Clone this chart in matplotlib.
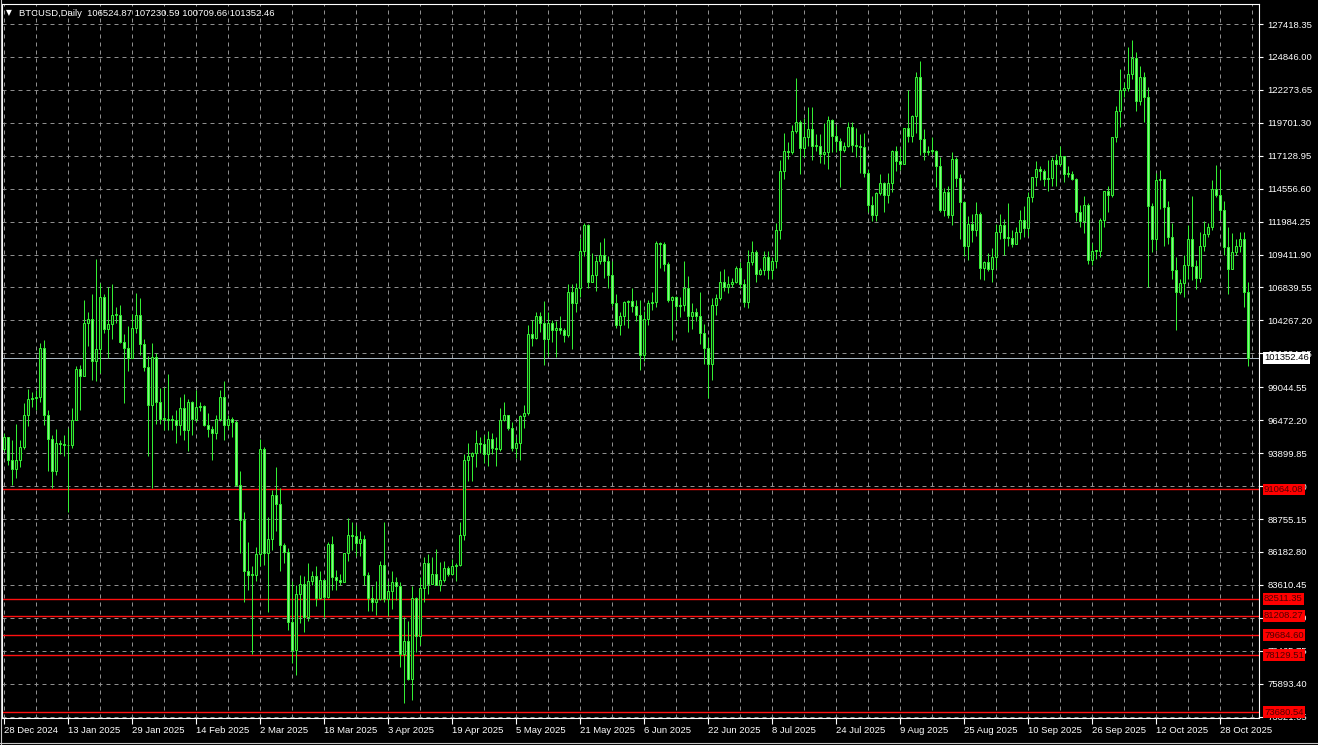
import numpy as np
import pandas as pd
import matplotlib
matplotlib.use("Agg")
from matplotlib import pyplot as plt
from matplotlib.transforms import blended_transform_factory

# BTCUSD daily bars, 28 Dec 2024 .. 4 Nov 2025, prices in thousands
opens = [
    94.2, 95.2, 93.4, 92.7,
    # Jan
    93.4, 94.4, 96.9, 98.1, 98.2, 98.3, 102.1, 96.9, 95.0, 92.5, 94.7, 94.6, 94.5, 94.5, 96.5, 100.5,
    99.9, 104.1, 104.4, 101.1, 102.0, 106.1, 103.6, 104.0, 104.7, 104.7, 102.6, 102.1, 101.3, 103.7, 104.7,
    # Feb
    102.4, 100.6, 97.7, 101.4, 97.9, 96.6, 96.6, 96.5, 96.5, 96.1, 97.4, 95.7, 97.9, 96.6,
    97.5, 97.6, 96.1, 95.8, 95.5, 96.6, 98.3, 96.1, 96.6, 96.3, 91.4, 88.7, 84.7, 84.4,
    # Mar
    84.4, 86.0, 94.2, 86.1, 87.2, 90.6, 89.9, 86.7, 86.2, 80.7, 78.5, 82.9, 83.7, 81.1, 83.9, 84.3,
    82.6, 84.0, 82.7, 86.8, 84.2, 84.0, 83.8, 86.1, 87.5, 87.4, 86.9, 87.2, 84.4, 82.6, 82.3,
    # Apr
    82.5, 85.2, 82.5, 83.1, 83.8, 83.5, 78.2, 79.2, 76.3, 82.6, 79.6, 83.4, 85.3, 83.7, 84.5,
    83.6, 84.0, 84.9, 84.5, 85.1, 85.2, 87.5, 93.4, 93.7, 93.9, 94.7, 94.6, 93.8, 95.0, 94.3,
    # May
    94.2, 96.5, 96.9, 95.9, 94.3, 94.7, 96.8, 97.0, 103.2, 102.9, 104.6, 104.1, 102.8, 104.1, 103.5, 103.7,
    103.5, 103.1, 106.5, 105.6, 106.8, 109.7, 111.7, 107.3, 107.8, 108.9, 109.4, 108.9, 107.8, 105.6, 103.9,
    # Jun
    104.6, 105.7, 105.8, 105.4, 104.7, 101.6, 104.4, 105.6, 105.7, 110.3, 110.2, 108.7, 105.9, 106.1, 105.4,
    105.5, 106.8, 104.6, 104.9, 104.6, 103.3, 102.1, 100.9, 105.5, 106.0, 107.3, 106.9, 107.1, 107.3, 108.4,
    # Jul
    107.1, 105.7, 108.8, 109.6, 107.9, 108.2, 109.2, 108.2, 108.9, 111.3, 115.9, 117.5, 117.4, 119.1, 119.8, 117.7,
    118.6, 119.2, 117.9, 117.9, 117.3, 117.4, 119.9, 118.7, 118.3, 117.6, 117.9, 119.4, 118.0, 117.9, 117.8,
    # Aug
    115.8, 113.3, 112.5, 114.2, 115.0, 114.1, 115.0, 117.5, 116.7, 116.5, 119.3, 118.7, 120.2, 123.3, 118.4, 117.4,
    117.5, 117.5, 116.3, 112.9, 114.3, 112.5, 116.9, 115.4, 113.5, 110.1, 111.8, 111.3, 112.6, 108.4, 108.8,
    # Sep
    108.3, 109.2, 111.2, 111.7, 110.7, 110.7, 110.2, 111.2, 112.1, 111.5, 113.9, 115.5, 116.1, 115.9, 115.3,
    115.4, 116.8, 116.5, 117.1, 115.7, 115.7, 115.3, 112.7, 112.0, 113.3, 109.0, 109.7, 109.7, 112.1, 114.4,
    # Oct
    114.1, 118.6, 120.6, 122.3, 122.4, 123.5, 124.8, 121.4, 123.3, 121.7, 113.2, 110.6, 115.2, 115.3, 113.1, 110.8,
    108.2, 106.5, 107.2, 108.6, 110.6, 108.5, 107.6, 110.1, 111.0, 111.6, 114.5, 114.1, 112.9, 110.0, 108.3,
    # Nov
    109.6, 110.1, 110.6, 106.52487,
]
highs = [
    95.5, 95.2, 94.9, 96.2,
    94.9, 97.8, 98.9, 98.7, 98.8, 102.5, 102.7, 97.3, 95.3, 95.8, 94.9, 95.3, 95.9, 97.4, 100.7, 100.8,
    105.9, 104.9, 106.3, 109.1, 107.2, 106.3, 106.9, 107.1, 105.3, 105.5, 103.2, 103.8, 104.8, 106.4, 106.0,
    102.8, 101.5, 102.5, 101.7, 99.0, 99.1, 100.1, 96.9, 97.3, 98.3, 98.5, 98.1, 98.0, 98.8,
    97.9, 97.7, 97.0, 96.0, 96.9, 98.8, 99.5, 96.9, 96.7, 96.5, 92.5, 89.3, 87.0, 85.1,
    86.6, 95.0, 94.4, 88.9, 91.0, 92.8, 91.2, 86.9, 86.5, 83.9, 83.6, 84.4, 84.3, 85.3, 84.7, 85.1,
    84.7, 84.0, 87.0, 87.4, 84.8, 84.5, 86.1, 88.8, 88.5, 88.3, 87.8, 87.5, 84.6, 83.5, 83.9,
    85.5, 88.5, 83.9, 84.7, 84.2, 83.8, 81.1, 80.8, 83.5, 82.7, 84.2, 85.8, 86.0, 85.8, 86.4,
    85.4, 85.5, 85.1, 85.6, 85.3, 88.5, 93.8, 94.7, 94.0, 95.7, 95.2, 95.3, 95.6, 95.5, 95.2,
    97.4, 97.9, 96.9, 96.3, 95.2, 96.9, 97.7, 103.9, 104.3, 104.9, 104.9, 105.8, 104.9, 104.3, 104.2, 104.6,
    103.7, 107.1, 107.1, 107.2, 110.7, 111.9, 111.8, 109.5, 109.3, 110.4, 110.7, 109.3, 108.9, 106.3, 104.9,
    105.8, 105.9, 106.8, 105.9, 105.9, 105.0, 105.9, 106.5, 110.5, 110.4, 110.4, 108.8, 106.2, 106.2, 106.1,
    108.9, 107.7, 105.6, 105.2, 106.5, 104.0, 103.0, 106.0, 106.3, 108.1, 108.3, 107.7, 107.6, 108.5, 108.8,
    107.5, 109.8, 110.5, 109.8, 108.4, 109.7, 109.7, 109.2, 111.9, 116.8, 118.9, 118.2, 119.5, 123.2, 119.9, 120.1,
    120.9, 120.9, 118.8, 118.8, 119.7, 120.2, 120.0, 119.5, 118.5, 118.2, 119.8, 119.8, 119.3, 118.8, 118.9,
    116.1, 114.0, 114.3, 115.7, 115.1, 115.8, 117.6, 117.9, 117.7, 119.3, 122.3, 120.3, 123.7, 124.5, 119.2, 117.9,
    118.6, 117.6, 117.0, 114.6, 114.8, 117.4, 117.0, 115.7, 113.6, 112.4, 112.6, 113.5, 112.7, 108.9, 109.5,
    109.9, 111.8, 112.6, 112.2, 113.4, 111.3, 111.6, 112.9, 113.2, 114.3, 115.5, 116.7, 116.3, 116.1, 116.8,
    117.0, 117.3, 117.9, 117.1, 116.3, 115.9, 115.4, 113.3, 114.0, 113.4, 110.3, 109.8, 112.3, 114.4, 114.8,
    118.6, 121.0, 123.9, 122.9, 125.6, 126.2, 125.2, 124.1, 123.7, 122.5, 113.4, 115.8, 116.0, 115.3, 113.6, 111.9,
    109.2, 107.5, 109.4, 111.7, 114.0, 109.0, 111.2, 112.0, 111.9, 115.2, 116.4, 116.1, 113.6, 111.6, 111.1,
    110.6, 111.2, 111.2, 107.23059,
]
lows = [
    94.1, 93.0, 91.4, 92.0,
    92.8, 94.2, 96.0, 97.5, 97.3, 97.9, 96.1, 92.5, 91.2, 92.2, 93.8, 93.7, 89.3, 94.3, 96.5, 97.3,
    99.9, 102.3, 99.6, 99.5, 100.2, 103.3, 101.3, 102.8, 104.1, 102.5, 97.8, 100.3, 101.3, 103.3, 101.6,
    100.3, 93.7, 91.2, 96.2, 96.2, 95.7, 95.7, 95.7, 94.7, 95.3, 94.9, 94.1, 95.3, 96.3,
    97.2, 96.0, 95.2, 93.4, 95.0, 96.4, 94.9, 95.8, 95.2, 91.3, 86.1, 82.3, 83.2, 78.2,
    83.9, 85.1, 85.2, 81.5, 86.3, 87.8, 84.7, 85.3, 80.1, 77.5, 76.6, 80.6, 79.9, 80.8, 83.6, 82.0,
    82.5, 81.1, 82.6, 83.2, 83.2, 83.6, 83.8, 85.5, 86.3, 85.9, 85.9, 83.6, 81.6, 81.6, 81.3,
    82.4, 82.3, 81.2, 81.7, 82.4, 77.2, 74.4, 76.2, 74.6, 78.4, 78.9, 82.3, 82.9, 83.7, 83.6,
    83.1, 83.8, 84.3, 84.4, 83.9, 85.1, 87.1, 91.7, 91.7, 92.8, 93.9, 93.1, 92.9, 93.8, 92.9,
    94.1, 96.4, 95.7, 94.1, 93.5, 93.4, 95.9, 96.9, 102.3, 102.8, 103.4, 100.8, 101.5, 102.6, 101.4, 103.2,
    102.6, 103.0, 102.0, 104.9, 106.1, 109.3, 106.8, 107.3, 106.6, 108.7, 107.6, 106.8, 105.4, 103.7, 103.1,
    103.9, 103.7, 104.9, 104.2, 100.4, 101.1, 103.9, 105.1, 105.3, 108.4, 108.1, 105.7, 102.7, 104.3, 104.5,
    105.0, 103.4, 103.6, 104.2, 102.4, 100.9, 98.2, 99.6, 104.7, 105.9, 106.6, 106.4, 106.9, 107.2, 106.8,
    105.3, 105.2, 108.6, 107.3, 107.8, 107.8, 107.5, 107.5, 108.4, 110.6, 115.3, 116.9, 117.3, 118.9, 115.7, 117.0,
    117.9, 116.8, 117.5, 116.6, 116.5, 116.1, 117.4, 117.4, 114.7, 117.4, 117.8, 117.4, 117.0, 115.8, 115.5,
    112.7, 112.0, 112.0, 114.1, 112.7, 113.4, 114.3, 115.9, 116.0, 116.5, 118.2, 118.2, 118.9, 117.2, 116.8, 117.2,
    117.3, 114.7, 112.7, 112.4, 112.3, 111.7, 114.7, 110.6, 109.3, 109.0, 110.4, 110.9, 107.5, 107.4, 108.1,
    107.3, 108.4, 110.6, 109.4, 110.1, 110.0, 110.2, 110.6, 110.8, 110.9, 113.5, 114.8, 115.2, 114.8, 114.4,
    114.8, 114.8, 116.3, 115.1, 115.5, 115.2, 112.0, 111.6, 111.1, 108.7, 108.6, 109.1, 109.2, 111.6, 112.7,
    113.9, 118.2, 119.4, 121.7, 122.2, 123.1, 120.6, 121.1, 119.8, 106.9, 109.6, 109.8, 113.0, 110.1, 110.2, 107.5,
    103.5, 106.3, 106.1, 107.5, 107.4, 106.7, 107.3, 109.7, 110.8, 111.3, 113.9, 112.2, 109.4, 106.3, 108.3,
    109.4, 109.6, 105.3, 100.70966,
]
closes = [
    95.2, 93.4, 92.7, 93.4,
    94.4, 96.9, 98.1, 98.2, 98.3, 102.1, 96.9, 95.0, 92.5, 94.7, 94.6, 94.5, 94.5, 96.5, 100.5, 99.9,
    104.1, 104.4, 101.1, 102.0, 106.1, 103.6, 104.0, 104.7, 104.7, 102.6, 102.1, 101.3, 103.7, 104.7, 102.4,
    100.6, 97.7, 101.4, 97.9, 96.6, 96.6, 96.5, 96.5, 96.1, 97.4, 95.7, 97.9, 96.6, 97.5,
    97.6, 96.1, 95.8, 95.5, 96.6, 98.3, 96.1, 96.6, 96.3, 91.4, 88.7, 84.7, 84.4, 84.4,
    86.0, 94.2, 86.1, 87.2, 90.6, 89.9, 86.7, 86.2, 80.7, 78.5, 82.9, 83.7, 81.1, 83.9, 84.3, 82.6,
    84.0, 82.7, 86.8, 84.2, 84.0, 83.8, 86.1, 87.5, 87.4, 86.9, 87.2, 84.4, 82.6, 82.3, 82.5,
    85.2, 82.5, 83.1, 83.8, 83.5, 78.2, 79.2, 76.3, 82.6, 79.6, 83.4, 85.3, 83.7, 84.5, 83.6,
    84.0, 84.9, 84.5, 85.1, 85.2, 87.5, 93.4, 93.7, 93.9, 94.7, 94.6, 93.8, 95.0, 94.3, 94.2,
    96.5, 96.9, 95.9, 94.3, 94.7, 96.8, 97.0, 103.2, 102.9, 104.6, 104.1, 102.8, 104.1, 103.5, 103.7, 103.5,
    103.1, 106.5, 105.6, 106.8, 109.7, 111.7, 107.3, 107.8, 108.9, 109.4, 108.9, 107.8, 105.6, 103.9, 104.6,
    105.7, 105.8, 105.4, 104.7, 101.6, 104.4, 105.6, 105.7, 110.3, 110.2, 108.7, 105.9, 106.1, 105.4, 105.5,
    106.8, 104.6, 104.9, 104.6, 103.3, 102.1, 100.9, 105.5, 106.0, 107.3, 106.9, 107.1, 107.3, 108.4, 107.1,
    105.7, 108.8, 109.6, 107.9, 108.2, 109.2, 108.2, 108.9, 111.3, 115.9, 117.5, 117.4, 119.1, 119.8, 117.7, 118.6,
    119.2, 117.9, 117.9, 117.3, 117.4, 119.9, 118.7, 118.3, 117.6, 117.9, 119.4, 118.0, 117.9, 117.8, 115.8,
    113.3, 112.5, 114.2, 115.0, 114.1, 115.0, 117.5, 116.7, 116.5, 119.3, 118.7, 120.2, 123.3, 118.4, 117.4, 117.5,
    117.5, 116.3, 112.9, 114.3, 112.5, 116.9, 115.4, 113.5, 110.1, 111.8, 111.3, 112.6, 108.4, 108.8, 108.3,
    109.2, 111.2, 111.7, 110.7, 110.7, 110.2, 111.2, 112.1, 111.5, 113.9, 115.5, 116.1, 115.9, 115.3, 115.4,
    116.8, 116.5, 117.1, 115.7, 115.7, 115.3, 112.7, 112.0, 113.3, 109.0, 109.7, 109.7, 112.1, 114.4, 114.1,
    118.6, 120.6, 122.3, 122.4, 123.5, 124.8, 121.4, 123.3, 121.7, 113.2, 110.6, 115.2, 115.3, 113.1, 110.8, 108.2,
    106.5, 107.2, 108.6, 110.6, 108.5, 107.6, 110.1, 111.0, 111.6, 114.5, 114.1, 112.9, 110.0, 108.3, 109.6,
    110.1, 110.6, 106.5, 101.35246,
]

price_ticks = [127418.35, 124846.00, 122273.65, 119701.30, 117128.95, 114556.60, 111984.25,
               109411.90, 106839.55, 104267.20, 101694.85, 99044.55, 96472.20, 93899.85,
               91327.50, 88755.15, 86182.80, 83610.45, 81038.10, 78465.75, 75893.40, 73321.05]
level_lines = [91064.08, 82511.35, 81208.27, 79684.60, 78129.51, 73680.54]
last_price = 101352.46
header = "BTCUSD,Daily  106524.87 107230.59 100709.66 101352.46"

LIME = "#33ee33"
GRID = "#8e8e8e"
W, H = 1318, 745
PX = 0.72  # one pixel in points at 100 dpi

plt.rcParams["font.family"] = ["Liberation Sans", "DejaVu Sans"]

o = np.array(opens) * 1000
h = np.array(highs) * 1000
l = np.array(lows) * 1000
c = np.array(closes) * 1000
days = pd.date_range("2024-12-28", periods=len(c), freq="D")
x = np.arange(len(c))

fig = plt.figure(figsize=(W / 100, H / 100), dpi=100, facecolor="black")
ax = fig.add_axes([2 / W, 27 / H, 1257 / W, 714 / H], facecolor="black")

# pixel scale of the terminal: 4 px per bar, 78.1 price units per px
ax.set_xlim(-0.575, -0.575 + 1257 / 4)
ax.set_ylim(127418.35 - 694 * 78.1, 127418.35 + 20 * 78.1)

# grid
for v in price_ticks:
    ax.axhline(v, color=GRID, lw=PX, ls=(0, (4, 4)), zorder=1, snap=True)
for d in range(0, len(c) + 2, 8):
    ax.axvline(d, color=GRID, lw=PX, ls=(0, (4, 4)), zorder=1, snap=True)

# support levels and last price
for v in level_lines:
    ax.axhline(v, color="#ff1010", lw=1.0, zorder=2)
ax.axhline(last_price, color="#a8b4c0", lw=PX, zorder=2, snap=True)

# candles
up = c >= o
ax.vlines(x, l, h, color=LIME, lw=PX, zorder=3, snap=True)
body_lo = np.minimum(o, c)
body_h = np.maximum(np.abs(c - o), 60)
ax.bar(x, body_h, bottom=body_lo, width=0.5, color=np.where(up, "#0a300a", "#88f888"),
       edgecolor=LIME, linewidth=PX, zorder=4)

# axes styling
for s in ax.spines.values():
    s.set_color("white")
    s.set_linewidth(0.8)

ax.yaxis.tick_right()
ax.set_yticks(price_ticks, [f"{v:.2f}" for v in price_ticks])
ax.tick_params(axis="y", colors="white", labelsize=6.8, length=3, width=0.8, pad=3)

tick_dates = pd.date_range(days[0], days[-1], freq="16D")
tick_pos = [days.get_loc(d) for d in tick_dates]
ax.set_xticks(tick_pos, [f"{d.day} {d:%b %Y}" for d in tick_dates])
ax.tick_params(axis="x", colors="white", labelsize=6.8, length=4, width=0.8, pad=2)
for lbl in ax.get_xticklabels():
    lbl.set_horizontalalignment("left")

tr = blended_transform_factory(ax.transAxes, ax.transData)
for v in level_lines:
    ax.annotate(f"{v:.2f}", xy=(1, v), xycoords=tr, xytext=(3.6, 0), textcoords="offset points",
                ha="left", va="center", fontsize=6.8, color="#500000", annotation_clip=False,
                bbox=dict(boxstyle="square,pad=0.15", fc="#ff0000", ec="none"))
ax.annotate(f"{last_price:.2f}", xy=(1, last_price), xycoords=tr, xytext=(3.6, 0),
            textcoords="offset points", ha="left", va="center", fontsize=6.8, color="black",
            annotation_clip=False, bbox=dict(boxstyle="square,pad=0.15", fc="white", ec="none"))

# header
fig.text(6 / W, 1 - 13 / H, "\u25bc", color="white", fontsize=5.5, va="center",
         family=["DejaVu Sans"])
fig.text(19 / W, 1 - 13 / H, header, color="white", fontsize=6.8, va="center")

# outer window frame
fig.add_artist(plt.Line2D([0, 1], [2.5 / H, 2.5 / H], color="#c8c8c8", lw=0.8))
fig.add_artist(plt.Line2D([0.5 / W, 0.5 / W], [0, 1], color="#c8c8c8", lw=0.8))

fig.savefig("out.png", dpi=100, facecolor="black")
